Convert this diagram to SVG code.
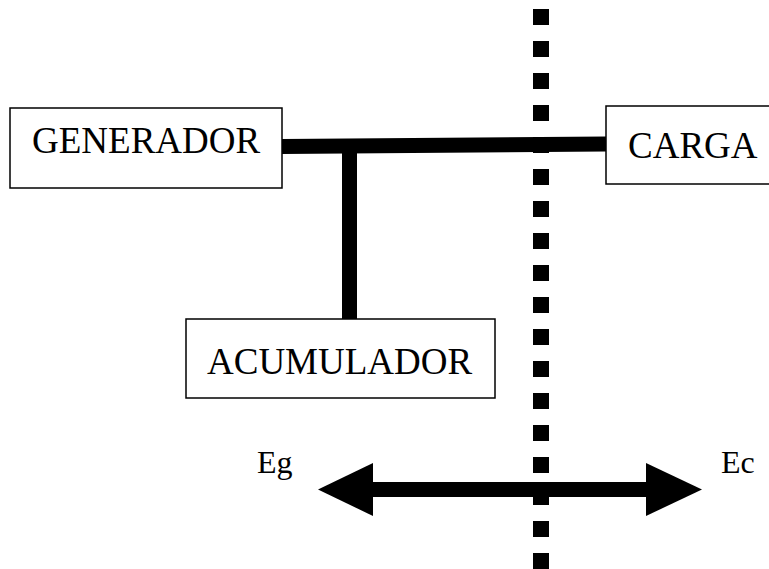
<svg xmlns="http://www.w3.org/2000/svg" width="769" height="569" viewBox="0 0 769 569">
<style>
.box{fill:#fff;stroke:#000;stroke-width:1.5}
.lbl{font-family:"Liberation Serif","Times New Roman",serif;font-size:37px;fill:#000}
.sm{font-family:"Liberation Serif","Times New Roman",serif;font-size:32px;fill:#000}
.bar{stroke:#000;stroke-width:15;fill:none}
</style>
<rect width="769" height="569" fill="#fff"/>
<g id="connectors">
<line x1="541" y1="9" x2="541" y2="569" stroke="#000" stroke-width="16" stroke-dasharray="16 16"/>
<line class="bar" x1="282" y1="146.5" x2="606" y2="144"/>
<line class="bar" x1="349.5" y1="146" x2="349.5" y2="319"/>
<g id="arrow">
<line class="bar" x1="370" y1="489.5" x2="650" y2="489.5"/>
<polygon points="318,489.5 373,463 373,516" fill="#000"/>
<polygon points="702,489.5 646,463 646,516" fill="#000"/>
</g>
</g>
<g id="generador">
<rect class="box" x="10" y="108" width="272" height="80"/>
<text class="lbl" x="32" y="153">GENERADOR</text>
</g>
<g id="carga">
<rect class="box" x="606" y="106" width="170" height="78"/>
<text class="lbl" x="628" y="158">CARGA</text>
</g>
<g id="acumulador">
<rect class="box" x="186" y="319" width="309" height="79"/>
<text class="lbl" x="207" y="374">ACUMULADOR</text>
</g>
<g id="labels">
<text class="sm" x="257" y="473">Eg</text>
<text class="sm" x="721" y="473">Ec</text>
</g>
</svg>
